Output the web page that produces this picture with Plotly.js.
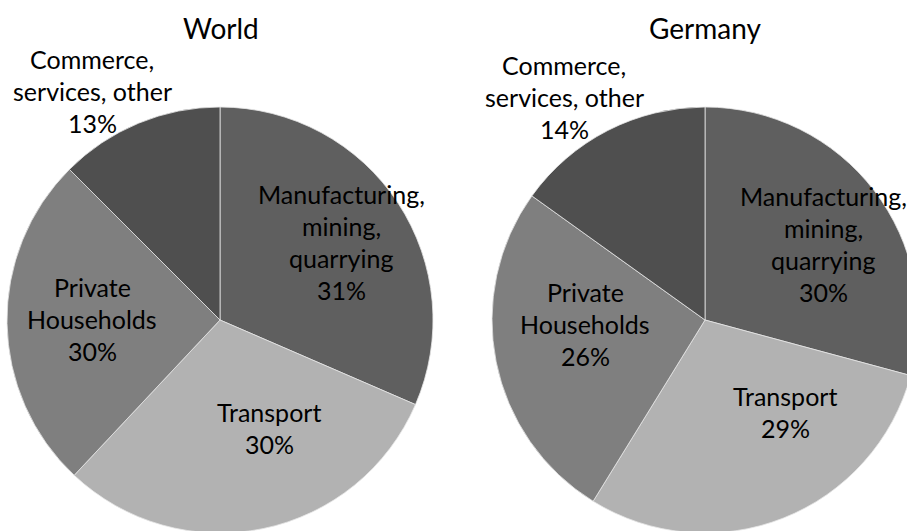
<!DOCTYPE html>
<html>
<head>
<meta charset="utf-8">
<script src="https://cdn.plot.ly/plotly-3.0.1.min.js"></script>
<style>
html,body{margin:0;padding:0;overflow:hidden;background:#fff;}
#chart{width:930px;height:545px;}
</style>
</head>
<body>
<div id="chart"></div>
<script>
// ---- data ----
const categories = ['Manufacturing, mining, quarrying', 'Transport', 'Private Households', 'Commerce, services, other'];
const categoryLines = [['Manufacturing,', 'mining,', 'quarrying'], ['Transport'], ['Private', 'Households'], ['Commerce,', 'services, other']];
const worldValues = [31.5, 30.5, 25.5, 12.5];      // slice sizes as drawn
const germanyValues = [29.2, 29.6, 26.1, 15.1];    // slice sizes as drawn
const worldPctLabels = ['31%', '30%', '30%', '13%'];
const germanyPctLabels = ['30%', '29%', '26%', '14%'];
const chartTitles = ['World', 'Germany'];

// ---- styling / layout ----
const W = 930, H = 545;
const colors = ['#5f5f5f', '#b2b2b2', '#7f7f7f', '#4f4f4f'];
const FONT = 'Lato, "Open Sans", sans-serif';
const LINE = 32;
const pies = [
  {cx: 220, cy: 320, r: 213, values: worldValues, pct: worldPctLabels,
   labelPos: [[341, 194], [269, 412], [92, 287], [92, 59]], titlePos: [221, 28]},
  {cx: 705, cy: 320, r: 213, values: germanyValues, pct: germanyPctLabels,
   labelPos: [[823, 196], [785, 396], [585, 292], [564, 65]], titlePos: [705, 28]}
];

const px = x => x / W;
const py = y => 1 - y / H;

const traces = pies.map((p, i) => ({
  type: 'pie',
  labels: categories,
  values: p.values,
  sort: false,
  direction: 'clockwise',
  rotation: 0,
  textinfo: 'none',
  hoverinfo: 'skip',
  marker: {colors: colors, line: {color: '#e6e6e6', width: 0.8}},
  domain: {x: [px(p.cx - p.r), px(p.cx + p.r)], y: [py(p.cy + p.r), py(p.cy - p.r)]},
  showlegend: false
}));

const annotations = [];
pies.forEach((p, i) => {
  annotations.push({
    xref: 'paper', yref: 'paper', x: px(p.titlePos[0]), y: py(p.titlePos[1]),
    xanchor: 'center', yanchor: 'middle', showarrow: false,
    text: chartTitles[i], font: {family: FONT, size: 28, color: '#000'}
  });
  categoryLines.forEach((lines, k) => {
    const all = lines.concat([p.pct[k]]);
    all.forEach((t, j) => {
      annotations.push({
        xref: 'paper', yref: 'paper',
        x: px(p.labelPos[k][0]), y: py(p.labelPos[k][1] + j * LINE),
        xanchor: 'center', yanchor: 'middle', showarrow: false,
        text: t, font: {family: FONT, size: 25, color: '#000'}
      });
    });
  });
});

Plotly.newPlot('chart', traces, {
  width: W, height: H,
  margin: {l: 0, r: 0, t: 0, b: 0},
  paper_bgcolor: '#fff',
  annotations: annotations
}, {displayModeBar: false, staticPlot: true});
</script>
</body>
</html>
